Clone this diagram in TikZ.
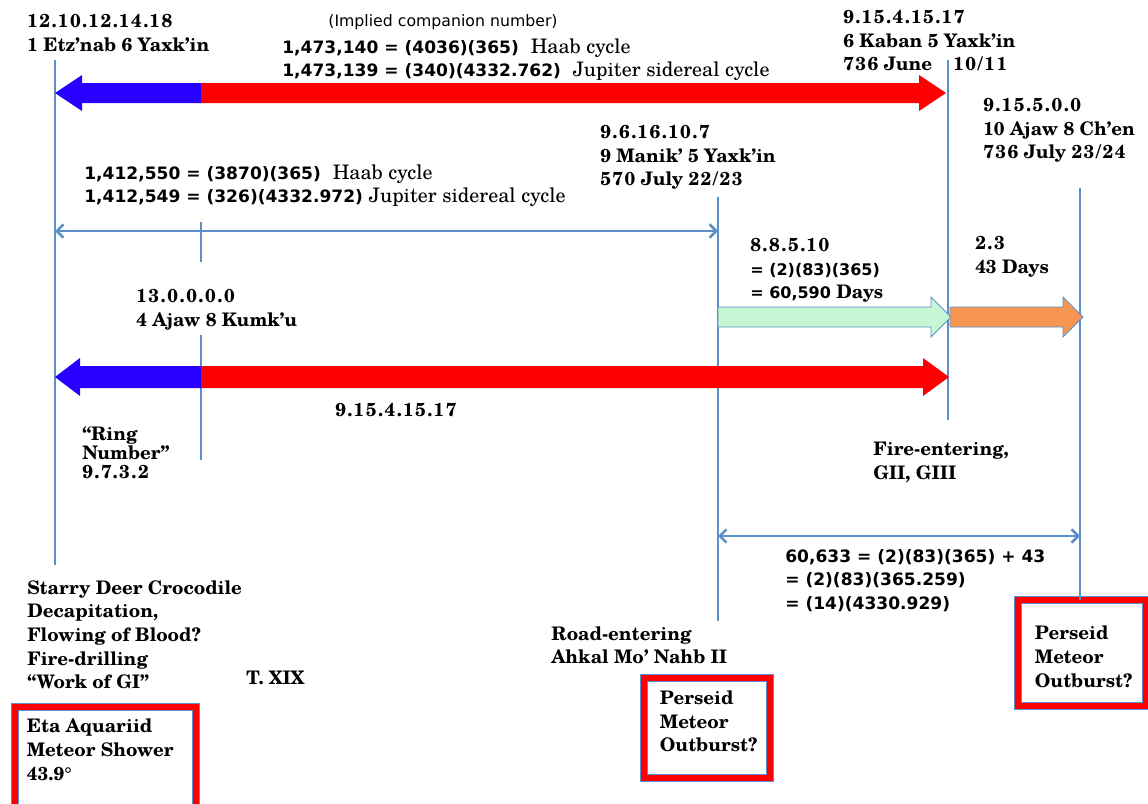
\documentclass[tikz,border=0pt]{standalone}
\usepackage{fontspec}
\setmainfont{texgyreschola}[Extension=.otf, UprightFont=*-regular, BoldFont=*-bold, ItalicFont=*-italic, BoldItalicFont=*-bolditalic]
\newfontfamily\digitfont{texgyreschola}[Extension=.otf, UprightFont=*-bold, LetterSpace=8]
\newfontfamily\numfont{DejaVu Sans}
\usetikzlibrary{positioning}
\usetikzlibrary{arrows.meta}

\definecolor{lineblue}{RGB}{91,143,201}
\definecolor{cyclered}{RGB}{255,0,0}
\definecolor{cycleblue}{RGB}{40,0,255}
\definecolor{mint}{RGB}{198,247,213}
\definecolor{dayorange}{RGB}{247,150,82}
\newcommand{\cyc}[1]{{\rmfamily\mdseries\fontsize{15}{17.8}\selectfont #1}}

\begin{document}
\begin{tikzpicture}[x=0.75pt, y=-0.75pt,
	lbl/.style={anchor=north west, inner sep=0, align=left, font=\fontsize{14}{17.8}\selectfont\bfseries},
	eqlbl/.style={lbl, font=\fontsize{12.8}{17.8}\selectfont\numfont\bfseries},
	tline/.style={draw=lineblue, line width=1.9pt},
	span/.style={tline, {Straight Barb[length=5pt,width=10pt]}-{Straight Barb[length=5pt,width=10pt]}},
	meteorbox/.style={draw=lineblue, line width=0.5pt, double=cyclered, double distance=5pt, inner sep=0}]
	\useasboundingbox (0,0) rectangle (1148,803);

	% time lines
	\coordinate (etztop) at (55,60);
	\coordinate (etzbot) at (55,565);
	\coordinate (kumtickA) at (201,222);
	\coordinate (kumtickB) at (201,262);
	\coordinate (kumtop) at (201,335);
	\coordinate (kumbot) at (201,460);
	\coordinate (maniktop) at (718,197);
	\coordinate (manikbot) at (718,621);
	\coordinate (kabantop) at (948,60);
	\coordinate (kabanbot) at (948,420);
	\coordinate (chentop) at (1080,188);
	\draw[tline] (etztop) -- (etzbot);
	\draw[tline] (kumtickA) -- (kumtickB);
	\draw[tline] (kumtop) -- (kumbot);
	\draw[tline] (maniktop) -- (manikbot);
	\draw[tline] (kabantop) -- (kabanbot);

	% boxes
	\node[meteorbox, minimum width=135.75pt, minimum height=78pt] (eta) at (105.5,759) {};
	\node[meteorbox, minimum width=94.5pt, minimum height=75pt] (persA) at (707,728) {};
	\node[meteorbox, minimum width=96pt, minimum height=79.5pt] (persB) at (1082,653) {};
	\draw[tline] (chentop) -- (persB.north -| chentop);

	% spans
	\coordinate (spanAl) at (55,231);
	\coordinate (spanAr) at (718,231);
	\coordinate (spanBl) at (718,536);
	\coordinate (spanBr) at (1080,536);
	\draw[span] (spanAl) -- (spanAr);
	\draw[span] (spanBl) -- (spanBr);

	% big cycle arrows
	\fill[cycleblue] (55,93) -- (82,75) -- (82,83) -- (201,83) -- (201,103) -- (82,103) -- (82,111) -- cycle;
	\fill[cyclered] (201,83) -- (919,83) -- (919,75) -- (946,93) -- (919,111) -- (919,103) -- (201,103) -- cycle;
	\fill[cycleblue] (55,377) -- (80,358) -- (80,366) -- (201,366) -- (201,388) -- (80,388) -- (80,396) -- cycle;
	\fill[cyclered] (201,366) -- (923,366) -- (923,358) -- (949,377) -- (923,396) -- (923,388) -- (201,388) -- cycle;
	\filldraw[draw=lineblue, fill=mint, line width=0.6pt] (718,307) -- (931,307) -- (931,297) -- (951,317) -- (931,337) -- (931,327) -- (718,327) -- cycle;
	\filldraw[draw=lineblue, fill=dayorange, line width=0.6pt] (950,307) -- (1063,307) -- (1063,297) -- (1083,317) -- (1063,337) -- (1063,327) -- (950,327) -- cycle;

	% labels
	\node[lbl] (etzdate) at (27,14) {{\digitfont 12.10.12.14.18}\\1 Etz'nab 6 Yaxk'in};
	\node[font=\fontsize{11.8}{12}\selectfont\numfont] (implied) at (443,22) {(Implied companion number)};
	\node[eqlbl] (haabA) at (282,38) {1,473,140 = (4036)(365)\ \ \cyc{Haab cycle}\\1,473,139 = (340)(4332.762)\ \ \cyc{Jupiter sidereal cycle}};
	\node[lbl] (kabandate) at (843,10) {{\digitfont 9.15.4.15.17}\\6 Kaban 5 Yaxk'in\\\makebox[82.5pt][l]{{\digitfont 736} June}{\digitfont 10/11}};
	\node[lbl] (chendate) at (983,98) {{\digitfont 9.15.5.0.0}\\10 Ajaw 8 Ch'en\\{\digitfont 736} July {\digitfont 23/24}};
	\node[lbl] (manikdate) at (600,125) {{\digitfont 9.6.16.10.7}\\9 Manik' 5 Yaxk'in\\{\digitfont 570} July {\digitfont 22/23}};
	\node[eqlbl] (haabB) at (84,164) {1,412,550 = (3870)(365)\ \ \cyc{Haab cycle}\\1,412,549 = (326)(4332.972) \cyc{Jupiter sidereal cycle}};
	\node[lbl] (calkab) at (750,238) {{\digitfont 8.8.5.10}\\{\numfont\fontsize{12}{17.8}\selectfont = (2)(83)(365)}\\{\numfont\fontsize{12}{17.8}\selectfont = 60,590} Days};
	\node[lbl] (days) at (975,236) {{\digitfont 2.3}\\43 Days};
	\node[lbl] (kumdate) at (136,289) {{\digitfont 13.0.0.0.0}\\4 Ajaw 8 Kumk'u};
	\node[lbl] (spancount) at (335,403) {\digitfont 9.15.4.15.17};
	\node[lbl, font=\fontsize{14}{14.3}\selectfont\bfseries] (ring) at (82,426) {``Ring\\Number''\\{\digitfont 9.7.3.2}};
	\node[lbl] (fire) at (873,442) {Fire-entering,\\GII, GIII};
	\node[eqlbl] (perseq) at (785,549) {60,633 = (2)(83)(365) + 43\\= (2)(83)(365.259)\\= (14)(4330.929)};
	\node[lbl] (starry) at (27,580) {Starry Deer Crocodile\\Decapitation,\\Flowing of Blood?\\Fire-drilling\\``Work of GI''};
	\node[lbl] (txix) at (246,671) {T. XIX};
	\node[lbl] (road) at (551,626) {Road-entering\\Ahkal Mo' Nahb II};
	\node[lbl, below right=9pt and 9pt of eta.north west] (etatxt) {Eta Aquariid\\Meteor Shower\\43.9°};
	\node[lbl, below right=9.5pt and 12pt of persA.north west] (persAtxt) {Perseid\\Meteor\\Outburst?};
	\node[lbl, below right=19.5pt and 12.75pt of persB.north west] (persBtxt) {Perseid\\Meteor\\Outburst?};
\end{tikzpicture}
\end{document}
